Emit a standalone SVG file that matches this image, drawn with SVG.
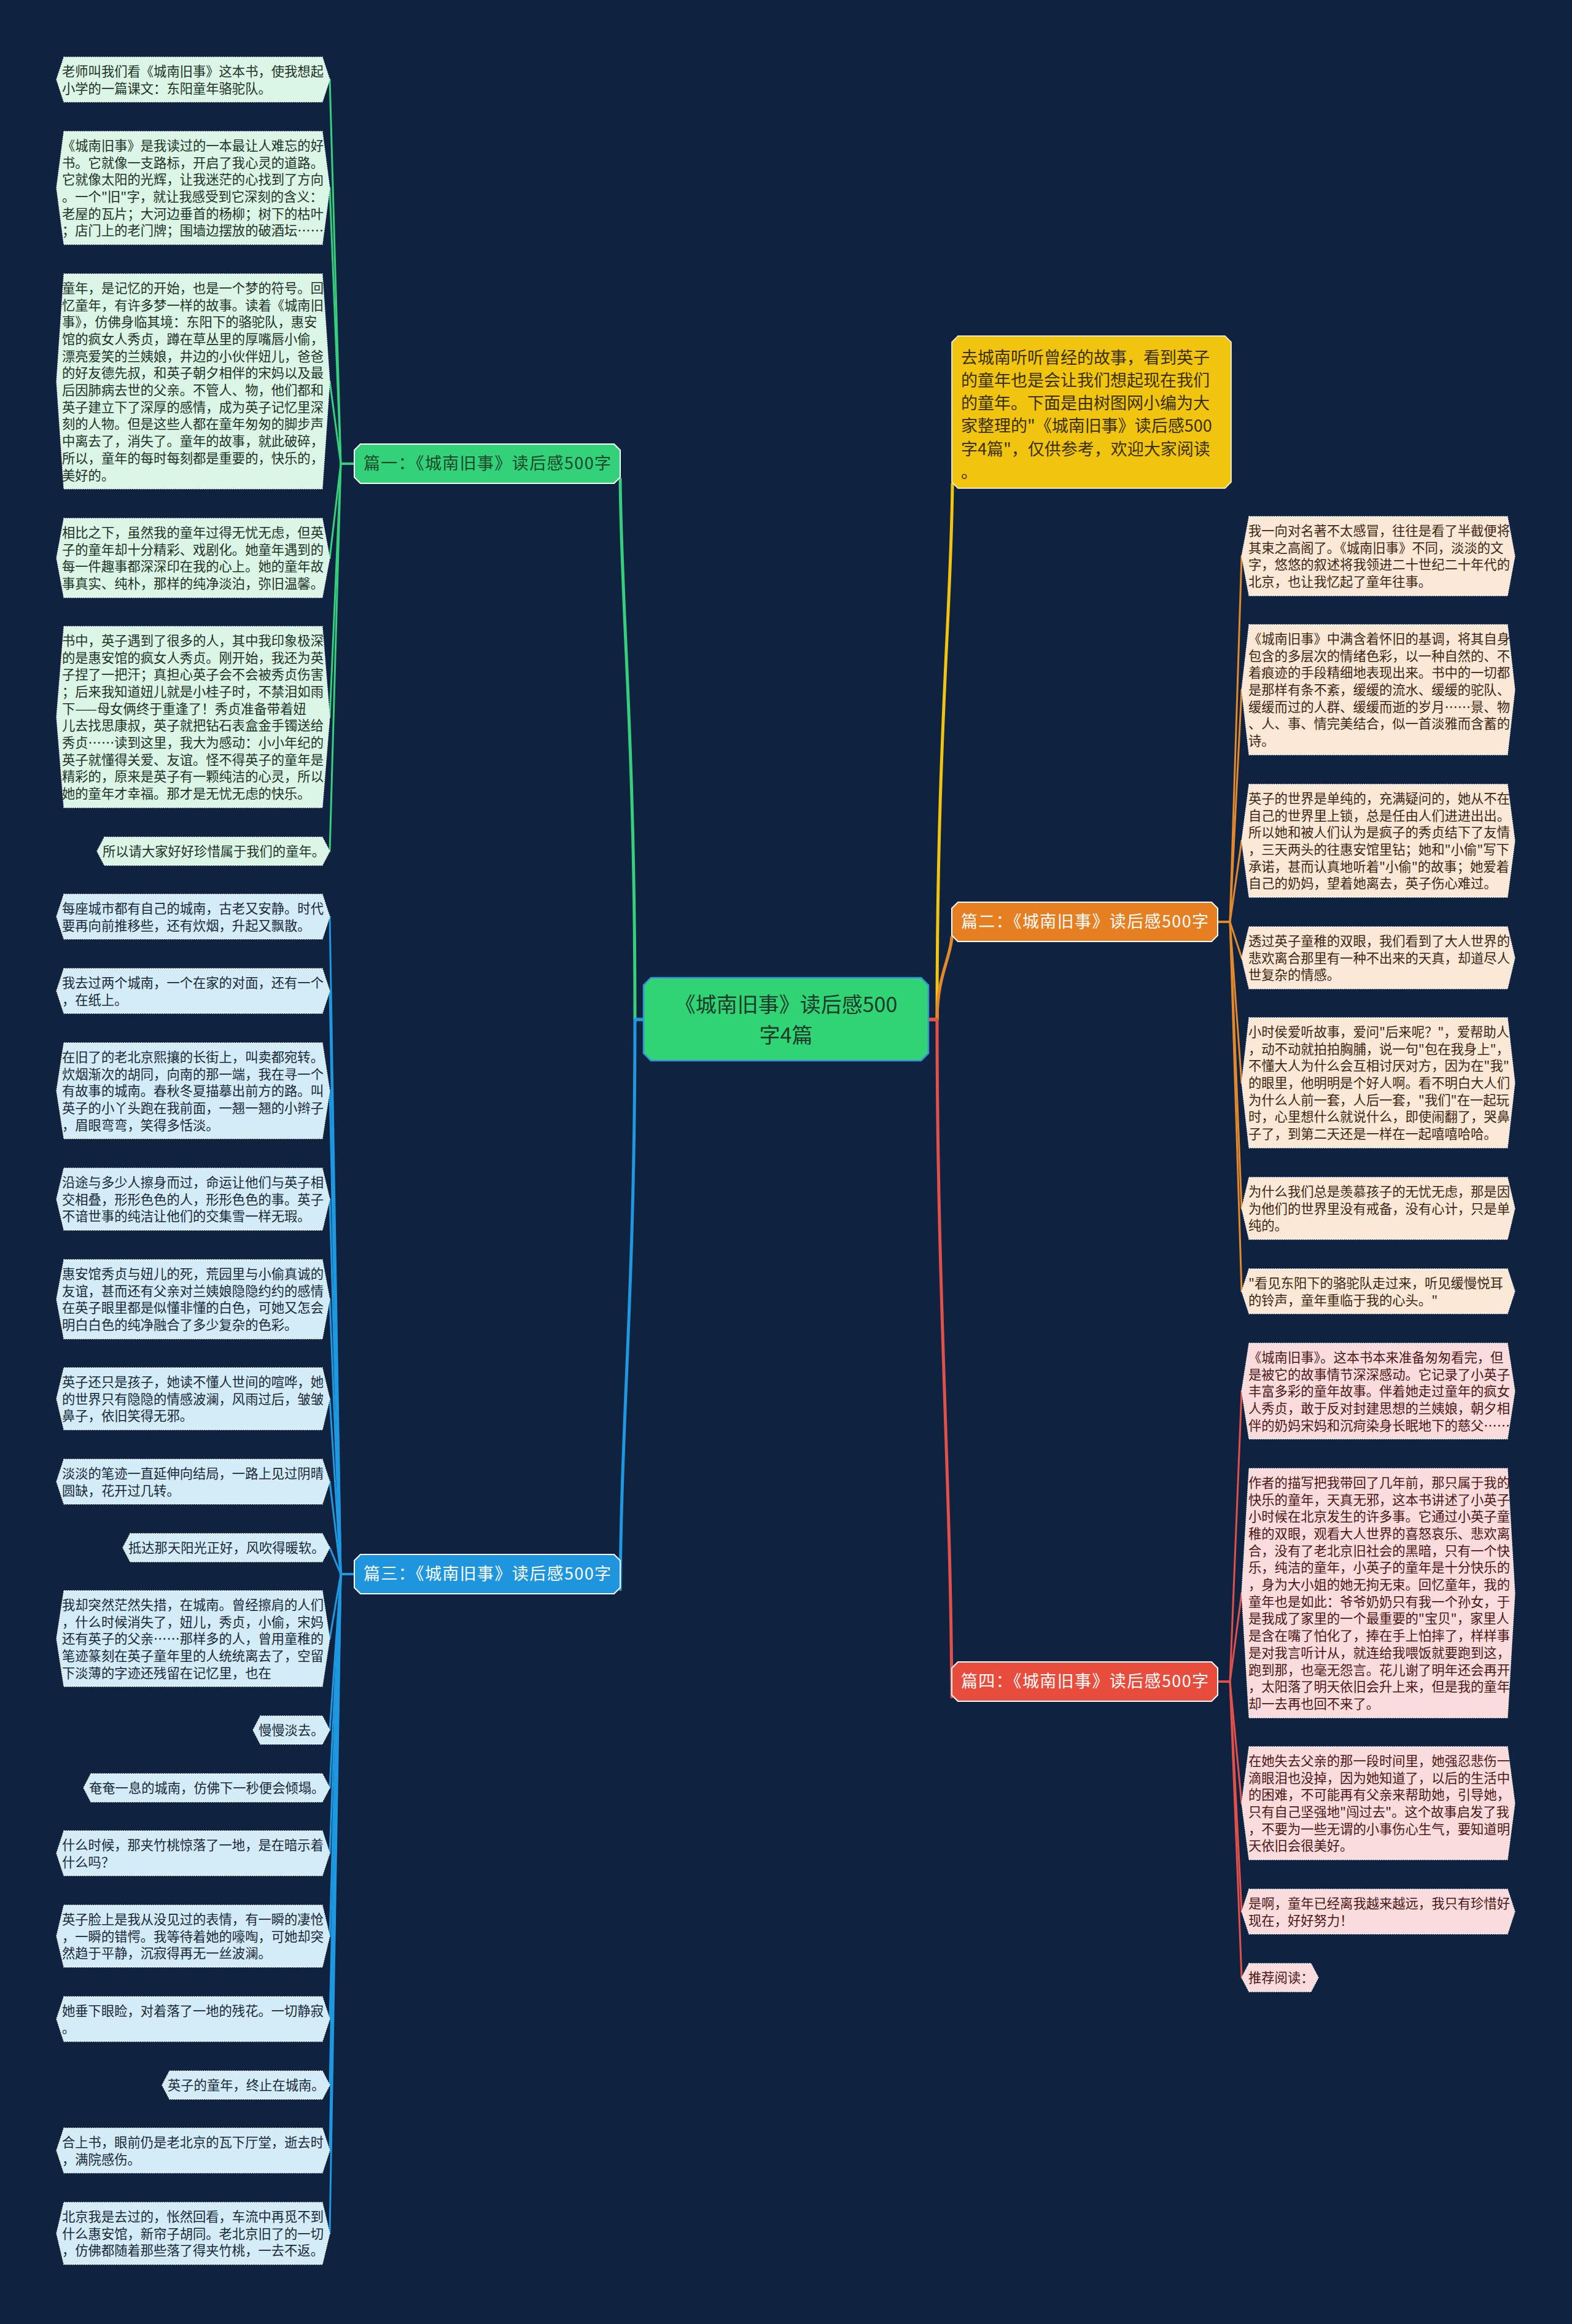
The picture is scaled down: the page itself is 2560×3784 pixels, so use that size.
<svg xmlns="http://www.w3.org/2000/svg" width="2560" height="3784" viewBox="0 0 2560 3784">
<style>
.t{font-family:"Noto Sans CJK SC","Noto Sans",sans-serif;font-size:21.3px}
.t1{fill:#1e3327}.t2{fill:#3e2612}.t3{fill:#17293a}.t4{fill:#4d1616}
.lf{stroke:#ffffff;stroke-width:1.3;stroke-dasharray:2 1.5}
.lf1{fill:#dbf5e6}.lf2{fill:#fce8d6}.lf3{fill:#d4ebf8}.lf4{fill:#fbdcdc}
.cn{fill:none;stroke-linecap:round;stroke-linejoin:round}
.c1{stroke:#36cf7c;stroke-width:3}.c2{stroke:#e3892c;stroke-width:3}.c3{stroke:#1e98e0;stroke-width:3}.c4{stroke:#e2504a;stroke-width:3}
.m{stroke-width:5}
.lb{font-family:"Noto Sans CJK SC","Noto Sans",sans-serif;font-size:27px;text-anchor:middle}
.lbx{stroke:#ffffff;stroke-width:2}
</style>
<rect x="0" y="0" width="2560" height="3784" fill="#0f2340"/>

<g id="connectors">
<path class="cn c1 m" d="M1048,1660 L1034,1660 C1034,1200 1012,1000 1010,780"/>
<path class="cn c3 m" d="M1048,1660 L1034,1660 C1034,2100 1012,2300 1010,2588"/>
<path class="cn m" stroke="#f1c40f" d="M1512,1660 L1526,1660 C1526,1200 1549,1000 1551,788"/>
<path class="cn c2 m" d="M1512,1660 L1526,1660 C1526,1590 1548,1560 1550,1526"/>
<path class="cn c4 m" d="M1512,1660 L1526,1660 C1526,2100 1548,2400 1550,2763"/>

<path class="cn c1" d="M577,755 H555 L537,129.5"/>
<path class="cn c1" d="M577,755 H555 L537,306"/>
<path class="cn c1" d="M577,755 H555 L537,621"/>
<path class="cn c1" d="M577,755 H555 L537,908.5"/>
<path class="cn c1" d="M577,755 H555 L537,1167.5"/>
<path class="cn c1" d="M577,755 H555 L537,1386"/>

<path class="cn c3" d="M577,2563 H555 L537,1492.5"/>
<path class="cn c3" d="M577,2563 H555 L537,1613.5"/>
<path class="cn c3" d="M577,2563 H555 L537,1776"/>
<path class="cn c3" d="M577,2563 H555 L537,1952.5"/>
<path class="cn c3" d="M577,2563 H555 L537,2115.5"/>
<path class="cn c3" d="M577,2563 H555 L537,2277.5"/>
<path class="cn c3" d="M577,2563 H555 L537,2412.5"/>
<path class="cn c3" d="M577,2563 H555 L537,2520"/>
<path class="cn c3" d="M577,2563 H555 L537,2668"/>
<path class="cn c3" d="M577,2563 H555 L537,2817"/>
<path class="cn c3" d="M577,2563 H555 L537,2911"/>
<path class="cn c3" d="M577,2563 H555 L537,3017.5"/>
<path class="cn c3" d="M577,2563 H555 L537,3152.5"/>
<path class="cn c3" d="M577,2563 H555 L537,3287.5"/>
<path class="cn c3" d="M577,2563 H555 L537,3395"/>
<path class="cn c3" d="M577,2563 H555 L537,3501.5"/>
<path class="cn c3" d="M577,2563 H555 L537,3636.5"/>

<path class="cn c2" d="M1983,1501 H2003 L2022,905.5"/>
<path class="cn c2" d="M1983,1501 H2003 L2022,1123"/>
<path class="cn c2" d="M1983,1501 H2003 L2022,1369"/>
<path class="cn c2" d="M1983,1501 H2003 L2022,1559.5"/>
<path class="cn c2" d="M1983,1501 H2003 L2022,1763"/>
<path class="cn c2" d="M1983,1501 H2003 L2022,1967.5"/>
<path class="cn c2" d="M1983,1501 H2003 L2022,2102.5"/>

<path class="cn c4" d="M1983,2738 H2003 L2022,2265"/>
<path class="cn c4" d="M1983,2738 H2003 L2022,2594"/>
<path class="cn c4" d="M1983,2738 H2003 L2022,2936"/>
<path class="cn c4" d="M1983,2738 H2003 L2022,3112.5"/>
<path class="cn c4" d="M1983,2738 H2003 L2022,3220"/>
</g>

<g id="center">
<polygon points="1060,1592 1500,1592 1512,1604 1512,1715 1500,1727 1060,1727 1048,1715 1048,1604" fill="#30d475" stroke="#3a8fd8" stroke-width="2.5"/>
<text font-family="'Noto Sans CJK SC','Noto Sans',sans-serif" font-size="34" fill="#1c3a2a" text-anchor="middle"><tspan x="1280" y="1648">《城南旧事》读后感500</tspan><tspan x="1280" y="1698">字4篇</tspan></text>
</g>

<g id="intro" transform="translate(1550,547)">
<polygon points="10,0 445,0 455,10 455,238 445,248 10,248 0,238 0,10" fill="#f1c40f" stroke="#ffffff" stroke-width="1.5"/>
<text font-family="'Noto Sans CJK SC','Noto Sans',sans-serif" font-size="27" fill="#3a3000"><tspan x="15" y="44.5">去城南听听曾经的故事，看到英子</tspan><tspan x="15" dy="37.3">的童年也是会让我们想起现在我们</tspan><tspan x="15" dy="37.3">的童年。下面是由树图网小编为大</tspan><tspan x="15" dy="37.3">家整理的"《城南旧事》读后感500</tspan><tspan x="15" dy="37.3">字4篇"，仅供参考，欢迎大家阅读</tspan><tspan x="15" dy="37.3">。</tspan></text>
</g>

<g id="label1" transform="translate(577,723)">
<polygon class="lbx" points="10,0 423,0 433,10 433,54 423,64 10,64 0,54 0,10" fill="#33d17a"/>
<text class="lb" x="216.5" y="41" fill="#1b4a2b" textLength="403" lengthAdjust="spacing">篇一：《城南旧事》读后感500字</text>
</g>
<g id="label2" transform="translate(1550,1469)">
<polygon class="lbx" points="10,0 423,0 433,10 433,54 423,64 10,64 0,54 0,10" fill="#e67e22"/>
<text class="lb" x="216.5" y="41" fill="#ffffff" textLength="403" lengthAdjust="spacing">篇二：《城南旧事》读后感500字</text>
</g>
<g id="label3" transform="translate(577,2531)">
<polygon class="lbx" points="10,0 423,0 433,10 433,54 423,64 10,64 0,54 0,10" fill="#1f95de"/>
<text class="lb" x="216.5" y="41" fill="#ffffff" textLength="403" lengthAdjust="spacing">篇三：《城南旧事》读后感500字</text>
</g>
<g id="label4" transform="translate(1550,2706)">
<polygon class="lbx" points="10,0 423,0 433,10 433,54 423,64 10,64 0,54 0,10" fill="#e74c3c"/>
<text class="lb" x="216.5" y="41" fill="#ffffff" textLength="403" lengthAdjust="spacing">篇四：《城南旧事》读后感500字</text>
</g>

<!-- Section 1 leaves -->
<g id="n1" transform="translate(0,93)"><polygon class="lf lf1" points="104,0 525,0 537,36.5 525,73 104,73 92,36.5"/><text class="t t1" y="30.8"><tspan x="101">老师叫我们看《城南旧事》这本书，使我想起</tspan><tspan x="101" dy="27.7">小学的一篇课文：东阳童年骆驼队。</tspan></text></g>
<g id="n2" transform="translate(0,214)"><polygon class="lf lf1" points="104,0 525,0 537,92 525,184 104,184 92,92"/><text class="t t1" y="30.8"><tspan x="101">《城南旧事》是我读过的一本最让人难忘的好</tspan><tspan x="101" dy="27.7">书。它就像一支路标，开启了我心灵的道路。</tspan><tspan x="101" dy="27.7">它就像太阳的光辉，让我迷茫的心找到了方向</tspan><tspan x="101" dy="27.7">。一个"旧"字，就让我感受到它深刻的含义：</tspan><tspan x="101" dy="27.7">老屋的瓦片；大河边垂首的杨柳；树下的枯叶</tspan><tspan x="101" dy="27.7">；店门上的老门牌；围墙边摆放的破酒坛……</tspan></text></g>
<g id="n3" transform="translate(0,446)"><polygon class="lf lf1" points="104,0 525,0 537,175 525,350 104,350 92,175"/><text class="t t1" y="30.8"><tspan x="101">童年，是记忆的开始，也是一个梦的符号。回</tspan><tspan x="101" dy="27.7">忆童年，有许多梦一样的故事。读着《城南旧</tspan><tspan x="101" dy="27.7">事》，仿佛身临其境：东阳下的骆驼队，惠安</tspan><tspan x="101" dy="27.7">馆的疯女人秀贞，蹲在草丛里的厚嘴唇小偷，</tspan><tspan x="101" dy="27.7">漂亮爱笑的兰姨娘，井边的小伙伴妞儿，爸爸</tspan><tspan x="101" dy="27.7">的好友德先叔，和英子朝夕相伴的宋妈以及最</tspan><tspan x="101" dy="27.7">后因肺病去世的父亲。不管人、物，他们都和</tspan><tspan x="101" dy="27.7">英子建立下了深厚的感情，成为英子记忆里深</tspan><tspan x="101" dy="27.7">刻的人物。但是这些人都在童年匆匆的脚步声</tspan><tspan x="101" dy="27.7">中离去了，消失了。童年的故事，就此破碎，</tspan><tspan x="101" dy="27.7">所以，童年的每时每刻都是重要的，快乐的，</tspan><tspan x="101" dy="27.7">美好的。</tspan></text></g>
<g id="n4" transform="translate(0,844)"><polygon class="lf lf1" points="104,0 525,0 537,64.5 525,129 104,129 92,64.5"/><text class="t t1" y="30.8"><tspan x="101">相比之下，虽然我的童年过得无忧无虑，但英</tspan><tspan x="101" dy="27.7">子的童年却十分精彩、戏剧化。她童年遇到的</tspan><tspan x="101" dy="27.7">每一件趣事都深深印在我的心上。她的童年故</tspan><tspan x="101" dy="27.7">事真实、纯朴，那样的纯净淡泊，弥旧温馨。</tspan></text></g>
<g id="n5" transform="translate(0,1020)"><polygon class="lf lf1" points="104,0 525,0 537,147.5 525,295 104,295 92,147.5"/><text class="t t1" y="30.8"><tspan x="101">书中，英子遇到了很多的人，其中我印象极深</tspan><tspan x="101" dy="27.7">的是惠安馆的疯女人秀贞。刚开始，我还为英</tspan><tspan x="101" dy="27.7">子捏了一把汗；真担心英子会不会被秀贞伤害</tspan><tspan x="101" dy="27.7">；后来我知道妞儿就是小桂子时，不禁泪如雨</tspan><tspan x="101" dy="27.7">下——母女俩终于重逢了！秀贞准备带着妞</tspan><tspan x="101" dy="27.7">儿去找思康叔，英子就把钻石表盒金手镯送给</tspan><tspan x="101" dy="27.7">秀贞……读到这里，我大为感动：小小年纪的</tspan><tspan x="101" dy="27.7">英子就懂得关爱、友谊。怪不得英子的童年是</tspan><tspan x="101" dy="27.7">精彩的，原来是英子有一颗纯洁的心灵，所以</tspan><tspan x="101" dy="27.7">她的童年才幸福。那才是无忧无虑的快乐。</tspan></text></g>
<g id="n6" transform="translate(0,1363)"><polygon class="lf lf1" points="170,0 525,0 537,23 525,46 170,46 158,23"/><text class="t t1" y="30.8"><tspan x="167">所以请大家好好珍惜属于我们的童年。</tspan></text></g>

<!-- Section 3 leaves -->
<g id="n7" transform="translate(0,1456)"><polygon class="lf lf3" points="104,0 525,0 537,36.5 525,73 104,73 92,36.5"/><text class="t t3" y="30.8"><tspan x="101">每座城市都有自己的城南，古老又安静。时代</tspan><tspan x="101" dy="27.7">要再向前推移些，还有炊烟，升起又飘散。</tspan></text></g>
<g id="n8" transform="translate(0,1577)"><polygon class="lf lf3" points="104,0 525,0 537,36.5 525,73 104,73 92,36.5"/><text class="t t3" y="30.8"><tspan x="101">我去过两个城南，一个在家的对面，还有一个</tspan><tspan x="101" dy="27.7">，在纸上。</tspan></text></g>
<g id="n9" transform="translate(0,1698)"><polygon class="lf lf3" points="104,0 525,0 537,78 525,156 104,156 92,78"/><text class="t t3" y="30.8"><tspan x="101">在旧了的老北京熙攘的长街上，叫卖都宛转。</tspan><tspan x="101" dy="27.7">炊烟渐次的胡同，向南的那一端，我在寻一个</tspan><tspan x="101" dy="27.7">有故事的城南。春秋冬夏描摹出前方的路。叫</tspan><tspan x="101" dy="27.7">英子的小丫头跑在我前面，一翘一翘的小辫子</tspan><tspan x="101" dy="27.7">，眉眼弯弯，笑得多恬淡。</tspan></text></g>
<g id="n10" transform="translate(0,1902)"><polygon class="lf lf3" points="104,0 525,0 537,50.5 525,101 104,101 92,50.5"/><text class="t t3" y="30.8"><tspan x="101">沿途与多少人擦身而过，命运让他们与英子相</tspan><tspan x="101" dy="27.7">交相叠，形形色色的人，形形色色的事。英子</tspan><tspan x="101" dy="27.7">不谙世事的纯洁让他们的交集雪一样无瑕。</tspan></text></g>
<g id="n11" transform="translate(0,2051)"><polygon class="lf lf3" points="104,0 525,0 537,64.5 525,129 104,129 92,64.5"/><text class="t t3" y="30.8"><tspan x="101">惠安馆秀贞与妞儿的死，荒园里与小偷真诚的</tspan><tspan x="101" dy="27.7">友谊，甚而还有父亲对兰姨娘隐隐约约的感情</tspan><tspan x="101" dy="27.7">在英子眼里都是似懂非懂的白色，可她又怎会</tspan><tspan x="101" dy="27.7">明白白色的纯净融合了多少复杂的色彩。</tspan></text></g>
<g id="n12" transform="translate(0,2227)"><polygon class="lf lf3" points="104,0 525,0 537,50.5 525,101 104,101 92,50.5"/><text class="t t3" y="30.8"><tspan x="101">英子还只是孩子，她读不懂人世间的喧哗，她</tspan><tspan x="101" dy="27.7">的世界只有隐隐的情感波澜，风雨过后，皱皱</tspan><tspan x="101" dy="27.7">鼻子，依旧笑得无邪。</tspan></text></g>
<g id="n13" transform="translate(0,2376)"><polygon class="lf lf3" points="104,0 525,0 537,36.5 525,73 104,73 92,36.5"/><text class="t t3" y="30.8"><tspan x="101">淡淡的笔迹一直延伸向结局，一路上见过阴晴</tspan><tspan x="101" dy="27.7">圆缺，花开过几转。</tspan></text></g>
<g id="n14" transform="translate(0,2497)"><polygon class="lf lf3" points="212,0 525,0 537,23 525,46 212,46 200,23"/><text class="t t3" y="30.8"><tspan x="209">抵达那天阳光正好，风吹得暖软。</tspan></text></g>
<g id="n15" transform="translate(0,2590)"><polygon class="lf lf3" points="104,0 525,0 537,78 525,156 104,156 92,78"/><text class="t t3" y="30.8"><tspan x="101">我却突然茫然失措，在城南。曾经擦肩的人们</tspan><tspan x="101" dy="27.7">，什么时候消失了，妞儿，秀贞，小偷，宋妈</tspan><tspan x="101" dy="27.7">还有英子的父亲……那样多的人，曾用童稚的</tspan><tspan x="101" dy="27.7">笔迹篆刻在英子童年里的人统统离去了，空留</tspan><tspan x="101" dy="27.7">下淡薄的字迹还残留在记忆里，也在</tspan></text></g>
<g id="n16" transform="translate(0,2794)"><polygon class="lf lf3" points="424,0 525,0 537,23 525,46 424,46 412,23"/><text class="t t3" y="30.8"><tspan x="421">慢慢淡去。</tspan></text></g>
<g id="n17" transform="translate(0,2888)"><polygon class="lf lf3" points="148,0 525,0 537,23 525,46 148,46 136,23"/><text class="t t3" y="30.8"><tspan x="145">奄奄一息的城南，仿佛下一秒便会倾塌。</tspan></text></g>
<g id="n18" transform="translate(0,2981)"><polygon class="lf lf3" points="104,0 525,0 537,36.5 525,73 104,73 92,36.5"/><text class="t t3" y="30.8"><tspan x="101">什么时候，那夹竹桃惊落了一地，是在暗示着</tspan><tspan x="101" dy="27.7">什么吗？</tspan></text></g>
<g id="n19" transform="translate(0,3102)"><polygon class="lf lf3" points="104,0 525,0 537,50.5 525,101 104,101 92,50.5"/><text class="t t3" y="30.8"><tspan x="101">英子脸上是我从没见过的表情，有一瞬的凄怆</tspan><tspan x="101" dy="27.7">，一瞬的错愕。我等待着她的嚎啕，可她却突</tspan><tspan x="101" dy="27.7">然趋于平静，沉寂得再无一丝波澜。</tspan></text></g>
<g id="n20" transform="translate(0,3251)"><polygon class="lf lf3" points="104,0 525,0 537,36.5 525,73 104,73 92,36.5"/><text class="t t3" y="30.8"><tspan x="101">她垂下眼睑，对着落了一地的残花。一切静寂</tspan><tspan x="101" dy="27.7">。</tspan></text></g>
<g id="n21" transform="translate(0,3372)"><polygon class="lf lf3" points="276,0 525,0 537,23 525,46 276,46 264,23"/><text class="t t3" y="30.8"><tspan x="273">英子的童年，终止在城南。</tspan></text></g>
<g id="n22" transform="translate(0,3465)"><polygon class="lf lf3" points="104,0 525,0 537,36.5 525,73 104,73 92,36.5"/><text class="t t3" y="30.8"><tspan x="101">合上书，眼前仍是老北京的瓦下厅堂，逝去时</tspan><tspan x="101" dy="27.7">，满院感伤。</tspan></text></g>
<g id="n23" transform="translate(0,3586)"><polygon class="lf lf3" points="104,0 525,0 537,50.5 525,101 104,101 92,50.5"/><text class="t t3" y="30.8"><tspan x="101">北京我是去过的，怅然回看，车流中再觅不到</tspan><tspan x="101" dy="27.7">什么惠安馆，新帘子胡同。老北京旧了的一切</tspan><tspan x="101" dy="27.7">，仿佛都随着那些落了得夹竹桃，一去不返。</tspan></text></g>

<!-- Section 2 leaves -->
<g id="r1" transform="translate(0,841)"><polygon class="lf lf2" points="2034,0 2455,0 2467,64.5 2455,129 2034,129 2022,64.5"/><text class="t t2" y="30.8"><tspan x="2033">我一向对名著不太感冒，往往是看了半截便将</tspan><tspan x="2033" dy="27.7">其束之高阁了。《城南旧事》不同，淡淡的文</tspan><tspan x="2033" dy="27.7">字，悠悠的叙述将我领进二十世纪二十年代的</tspan><tspan x="2033" dy="27.7">北京，也让我忆起了童年往事。</tspan></text></g>
<g id="r2" transform="translate(0,1017)"><polygon class="lf lf2" points="2034,0 2455,0 2467,106 2455,212 2034,212 2022,106"/><text class="t t2" y="30.8"><tspan x="2033">《城南旧事》中满含着怀旧的基调，将其自身</tspan><tspan x="2033" dy="27.7">包含的多层次的情绪色彩，以一种自然的、不</tspan><tspan x="2033" dy="27.7">着痕迹的手段精细地表现出来。书中的一切都</tspan><tspan x="2033" dy="27.7">是那样有条不紊，缓缓的流水、缓缓的驼队、</tspan><tspan x="2033" dy="27.7">缓缓而过的人群、缓缓而逝的岁月……景、物</tspan><tspan x="2033" dy="27.7">、人、事、情完美结合，似一首淡雅而含蓄的</tspan><tspan x="2033" dy="27.7">诗。</tspan></text></g>
<g id="r3" transform="translate(0,1277)"><polygon class="lf lf2" points="2034,0 2455,0 2467,92 2455,184 2034,184 2022,92"/><text class="t t2" y="30.8"><tspan x="2033">英子的世界是单纯的，充满疑问的，她从不在</tspan><tspan x="2033" dy="27.7">自己的世界里上锁，总是任由人们进进出出。</tspan><tspan x="2033" dy="27.7">所以她和被人们认为是疯子的秀贞结下了友情</tspan><tspan x="2033" dy="27.7">，三天两头的往惠安馆里钻；她和"小偷"写下</tspan><tspan x="2033" dy="27.7">承诺，甚而认真地听着"小偷"的故事；她爱着</tspan><tspan x="2033" dy="27.7">自己的奶妈，望着她离去，英子伤心难过。</tspan></text></g>
<g id="r4" transform="translate(0,1509)"><polygon class="lf lf2" points="2034,0 2455,0 2467,50.5 2455,101 2034,101 2022,50.5"/><text class="t t2" y="30.8"><tspan x="2033">透过英子童稚的双眼，我们看到了大人世界的</tspan><tspan x="2033" dy="27.7">悲欢离合那里有一种不出来的天真，却道尽人</tspan><tspan x="2033" dy="27.7">世复杂的情感。</tspan></text></g>
<g id="r5" transform="translate(0,1657)"><polygon class="lf lf2" points="2034,0 2455,0 2467,106 2455,212 2034,212 2022,106"/><text class="t t2" y="30.8"><tspan x="2033">小时侯爱听故事，爱问"后来呢？"，爱帮助人</tspan><tspan x="2033" dy="27.7">，动不动就拍拍胸脯，说一句"包在我身上"，</tspan><tspan x="2033" dy="27.7">不懂大人为什么会互相讨厌对方，因为在"我"</tspan><tspan x="2033" dy="27.7">的眼里，他明明是个好人啊。看不明白大人们</tspan><tspan x="2033" dy="27.7">为什么人前一套，人后一套，"我们"在一起玩</tspan><tspan x="2033" dy="27.7">时，心里想什么就说什么，即使闹翻了，哭鼻</tspan><tspan x="2033" dy="27.7">子了，到第二天还是一样在一起嘻嘻哈哈。</tspan></text></g>
<g id="r6" transform="translate(0,1917)"><polygon class="lf lf2" points="2034,0 2455,0 2467,50.5 2455,101 2034,101 2022,50.5"/><text class="t t2" y="30.8"><tspan x="2033">为什么我们总是羡慕孩子的无忧无虑，那是因</tspan><tspan x="2033" dy="27.7">为他们的世界里没有戒备，没有心计，只是单</tspan><tspan x="2033" dy="27.7">纯的。</tspan></text></g>
<g id="r7" transform="translate(0,2066)"><polygon class="lf lf2" points="2034,0 2455,0 2467,36.5 2455,73 2034,73 2022,36.5"/><text class="t t2" y="30.8"><tspan x="2033">"看见东阳下的骆驼队走过来，听见缓慢悦耳</tspan><tspan x="2033" dy="27.7">的铃声，童年重临于我的心头。"</tspan></text></g>

<!-- Section 4 leaves -->
<g id="r8" transform="translate(0,2187)"><polygon class="lf lf4" points="2034,0 2455,0 2467,78 2455,156 2034,156 2022,78"/><text class="t t4" y="30.8"><tspan x="2033">《城南旧事》。这本书本来准备匆匆看完，但</tspan><tspan x="2033" dy="27.7">是被它的故事情节深深感动。它记录了小英子</tspan><tspan x="2033" dy="27.7">丰富多彩的童年故事。伴着她走过童年的疯女</tspan><tspan x="2033" dy="27.7">人秀贞，敢于反对封建思想的兰姨娘，朝夕相</tspan><tspan x="2033" dy="27.7">伴的奶妈宋妈和沉疴染身长眠地下的慈父……</tspan></text></g>
<g id="r9" transform="translate(0,2391)"><polygon class="lf lf4" points="2034,0 2455,0 2467,203 2455,406 2034,406 2022,203"/><text class="t t4" y="30.8"><tspan x="2033">作者的描写把我带回了几年前，那只属于我的</tspan><tspan x="2033" dy="27.7">快乐的童年，天真无邪，这本书讲述了小英子</tspan><tspan x="2033" dy="27.7">小时候在北京发生的许多事。它通过小英子童</tspan><tspan x="2033" dy="27.7">稚的双眼，观看大人世界的喜怒哀乐、悲欢离</tspan><tspan x="2033" dy="27.7">合，没有了老北京旧社会的黑暗，只有一个快</tspan><tspan x="2033" dy="27.7">乐，纯洁的童年，小英子的童年是十分快乐的</tspan><tspan x="2033" dy="27.7">，身为大小姐的她无拘无束。回忆童年，我的</tspan><tspan x="2033" dy="27.7">童年也是如此：爷爷奶奶只有我一个孙女，于</tspan><tspan x="2033" dy="27.7">是我成了家里的一个最重要的"宝贝"，家里人</tspan><tspan x="2033" dy="27.7">是含在嘴了怕化了，捧在手上怕摔了，样样事</tspan><tspan x="2033" dy="27.7">是对我言听计从，就连给我喂饭就要跑到这，</tspan><tspan x="2033" dy="27.7">跑到那，也毫无怨言。花儿谢了明年还会再开</tspan><tspan x="2033" dy="27.7">，太阳落了明天依旧会升上来，但是我的童年</tspan><tspan x="2033" dy="27.7">却一去再也回不来了。</tspan></text></g>
<g id="r10" transform="translate(0,2844)"><polygon class="lf lf4" points="2034,0 2455,0 2467,92 2455,184 2034,184 2022,92"/><text class="t t4" y="30.8"><tspan x="2033">在她失去父亲的那一段时间里，她强忍悲伤一</tspan><tspan x="2033" dy="27.7">滴眼泪也没掉，因为她知道了，以后的生活中</tspan><tspan x="2033" dy="27.7">的困难，不可能再有父亲来帮助她，引导她，</tspan><tspan x="2033" dy="27.7">只有自己坚强地"闯过去"。这个故事启发了我</tspan><tspan x="2033" dy="27.7">，不要为一些无谓的小事伤心生气，要知道明</tspan><tspan x="2033" dy="27.7">天依旧会很美好。</tspan></text></g>
<g id="r11" transform="translate(0,3076)"><polygon class="lf lf4" points="2034,0 2455,0 2467,36.5 2455,73 2034,73 2022,36.5"/><text class="t t4" y="30.8"><tspan x="2033">是啊，童年已经离我越来越远，我只有珍惜好</tspan><tspan x="2033" dy="27.7">现在，好好努力！</tspan></text></g>
<g id="r12" transform="translate(0,3197)"><polygon class="lf lf4" points="2034,0 2135,0 2147,23 2135,46 2034,46 2022,23"/><text class="t t4" y="30.8"><tspan x="2033">推荐阅读：</tspan></text></g>
</svg>
